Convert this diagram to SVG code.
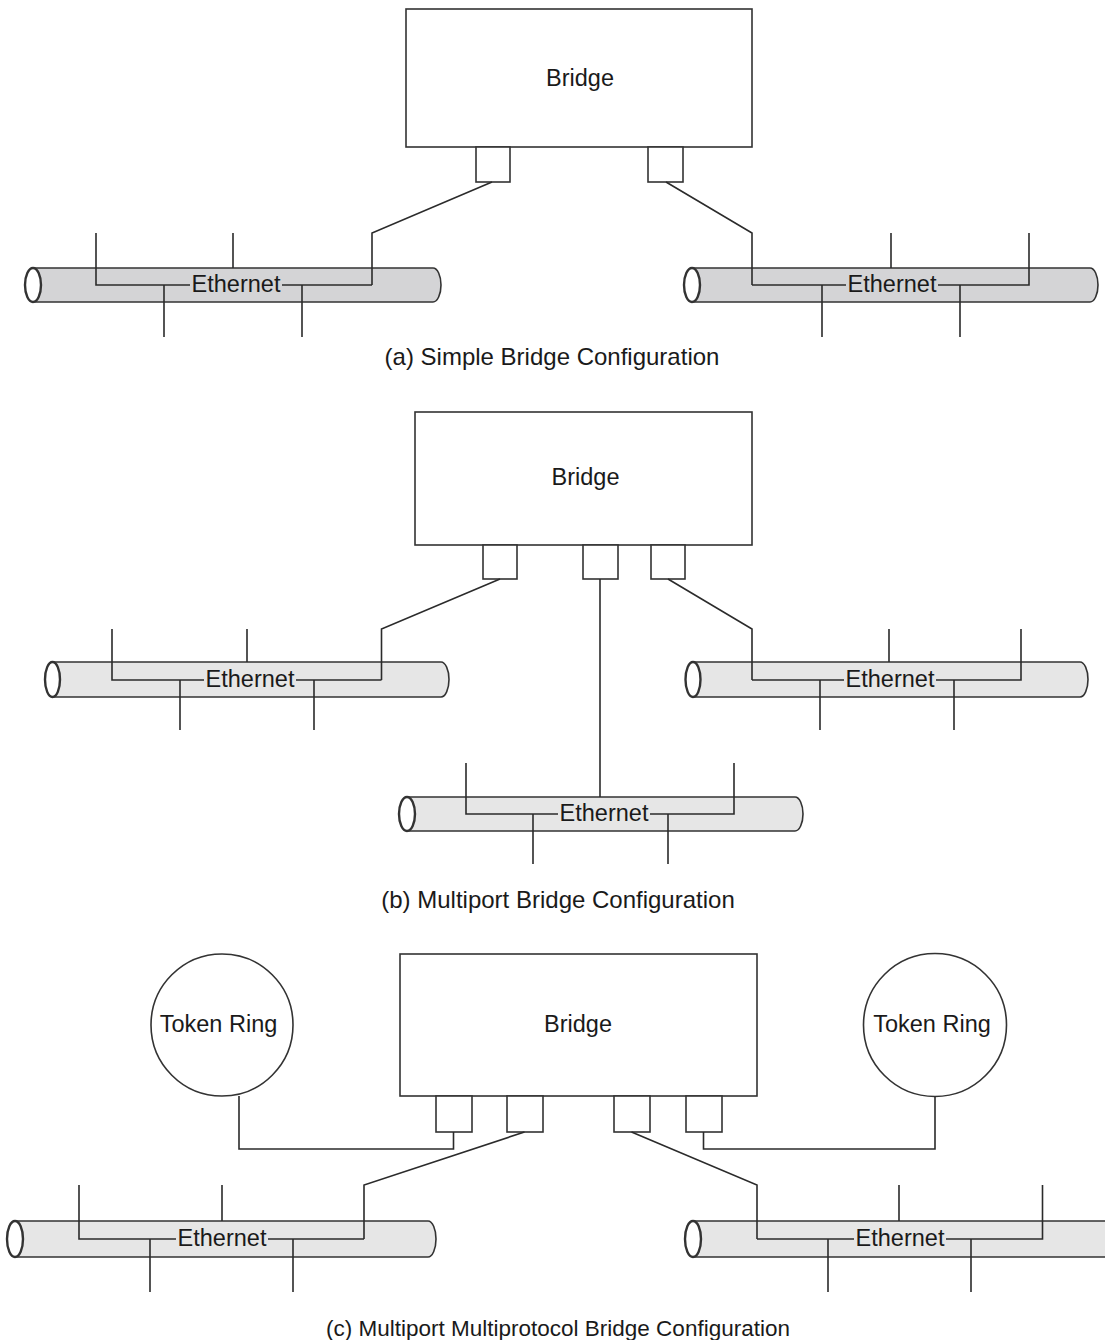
<svg xmlns="http://www.w3.org/2000/svg" width="1105" height="1340" viewBox="0 0 1105 1340">
  <defs>
    <style>
      .box { fill: #ffffff; stroke: #333333; stroke-width: 1.6; }
      .port { fill: #ffffff; stroke: #333333; stroke-width: 1.6; }
      .ring { fill: #ffffff; stroke: #333333; stroke-width: 1.6; }
      .pipe-a { fill: #d4d4d6; stroke: #333333; stroke-width: 1.6; }
      .pipe { fill: #e6e6e6; stroke: #333333; stroke-width: 1.6; }
      .pipe-end { fill: #ffffff; stroke: #333333; stroke-width: 2.4; }
      .wire { fill: none; stroke: #2b2b2b; stroke-width: 1.6; }
      .label { font-family: "Liberation Sans", Arial, sans-serif; font-size: 23.5px; fill: #1a1a1a; text-anchor: middle; }
      .caption { font-family: "Liberation Sans", Arial, sans-serif; font-size: 24px; fill: #1a1a1a; text-anchor: middle; }
    </style>
  </defs>
  <rect width="1105" height="1340" fill="#ffffff"/>

  <!-- ===== (a) Simple bridge ===== -->
  <g id="bridge-a">
    <rect class="box" x="406" y="9" width="346" height="138"/>
    <rect class="port" x="476" y="147" width="34" height="35"/>
    <rect class="port" x="648" y="147" width="35" height="35"/>
    <text class="label" x="580" y="86">Bridge</text>
  </g>

  <g id="ethernet-a1">
    <path class="pipe-a" d="M33,268 H433 A8,17 0 0 1 433,302 H33 Z"/>
    <ellipse class="pipe-end" cx="33" cy="285" rx="8" ry="17"/>
    <path class="wire" d="M96,233 V285 H190 M282,285 H372 M233,233 V268 M164,285 V337 M302,285 V337"/>
    <text class="label" x="236" y="292">Ethernet</text>
  </g>

  <g id="ethernet-a2">
    <path class="pipe-a" d="M692,268 H1090 A8,17 0 0 1 1090,302 H692 Z"/>
    <ellipse class="pipe-end" cx="692" cy="285" rx="8" ry="17"/>
    <path class="wire" d="M752,285 H846 M938,285 H1029 V233 M891,233 V268 M822,285 V337 M960,285 V337"/>
    <text class="label" x="892" y="292">Ethernet</text>
  </g>

  <text id="caption-a" class="caption" x="552" y="365">(a) Simple Bridge Configuration</text>

  <!-- ===== (b) Multiport bridge ===== -->
  <g id="bridge-b">
    <rect class="box" x="415" y="412" width="337" height="133"/>
    <rect class="port" x="483" y="545" width="34" height="34"/>
    <rect class="port" x="583" y="545" width="35" height="34"/>
    <rect class="port" x="651" y="545" width="34" height="34"/>
    <text class="label" x="585.5" y="485">Bridge</text>
  </g>

  <g id="ethernet-b1">
    <path class="pipe" d="M52.5,662 H441 A8,17.5 0 0 1 441,697 H52.5 Z"/>
    <ellipse class="pipe-end" cx="52.5" cy="679.5" rx="7.5" ry="17.5"/>
    <path class="wire" d="M112,629 V680 H204 M296,680 H381.5 M247,629 V662 M180,680 V730 M314,680 V730"/>
    <text class="label" x="250" y="687">Ethernet</text>
  </g>

  <g id="ethernet-b2">
    <path class="pipe" d="M693,662 H1080 A8,17.5 0 0 1 1080,697 H693 Z"/>
    <ellipse class="pipe-end" cx="693" cy="679.5" rx="7.5" ry="17.5"/>
    <path class="wire" d="M752,680 H844 M936,680 H1021 V629 M889,629 V662 M820,680 V730 M954,680 V730"/>
    <text class="label" x="890" y="687">Ethernet</text>
  </g>

  <g id="ethernet-b3">
    <path class="pipe" d="M407,797 H795 A8,17 0 0 1 795,831 H407 Z"/>
    <ellipse class="pipe-end" cx="407" cy="814" rx="8" ry="17"/>
    <path class="wire" d="M466,763 V814 H558 M650,814 H734 V763 M533,814 V864 M668,814 V864"/>
    <text class="label" x="604" y="821">Ethernet</text>
  </g>

  <text id="caption-b" class="caption" x="558" y="908">(b) Multiport Bridge Configuration</text>

  <!-- ===== (c) Multiport multiprotocol bridge ===== -->
  <g id="bridge-c">
    <rect class="box" x="400" y="954" width="357" height="142"/>
    <rect class="port" x="436" y="1096" width="36" height="36"/>
    <rect class="port" x="507" y="1096" width="36" height="36"/>
    <rect class="port" x="614" y="1096" width="36" height="36"/>
    <rect class="port" x="686" y="1096" width="36" height="36"/>
    <text class="label" x="578" y="1032">Bridge</text>
  </g>

  <g id="token-ring-left">
    <circle class="ring" cx="222" cy="1025" r="71"/>
    <text class="label" x="218.5" y="1032">Token Ring</text>
  </g>

  <g id="token-ring-right">
    <circle class="ring" cx="935" cy="1025" r="71.5"/>
    <text class="label" x="932" y="1032">Token Ring</text>
  </g>

  <g id="ethernet-c1">
    <path class="pipe" d="M15,1221 H428 A8,18 0 0 1 428,1257 H15 Z"/>
    <ellipse class="pipe-end" cx="15" cy="1239" rx="8" ry="18"/>
    <path class="wire" d="M79,1185 V1239 H176 M268,1239 H364 M222,1185 V1221 M150,1239 V1292 M293,1239 V1292"/>
    <text class="label" x="222" y="1246">Ethernet</text>
  </g>

  <g id="ethernet-c2">
    <path class="pipe" d="M693,1221 H1120 V1257 H693 Z"/>
    <ellipse class="pipe-end" cx="693" cy="1239" rx="8" ry="18"/>
    <path class="wire" d="M757,1239 H854 M946,1239 H1042.5 V1185 M899,1185 V1221 M828,1239 V1292 M971,1239 V1292"/>
    <text class="label" x="900" y="1246">Ethernet</text>
  </g>

  <text id="caption-c" class="caption" x="558" y="1336" style="font-size:22.5px">(c) Multiport Multiprotocol Bridge Configuration</text>

  <!-- ===== Links between bridge ports and networks ===== -->
  <g id="connectors" class="wire">
    <polyline points="492,182 372,233 372,285"/>
    <polyline points="666,182 752,233 752,285"/>

    <polyline points="500,579 381.5,629 381.5,680"/>
    <polyline points="600,579 600,797"/>
    <polyline points="668,579 752,629 752,680"/>

    <polyline points="239,1096 239,1149 453.5,1149 453.5,1132"/>
    <polyline points="935,1096.5 935,1149 703.5,1149 703.5,1132"/>
    <polyline points="524.5,1132 364,1185 364,1239"/>
    <polyline points="631.5,1132 757,1185 757,1239"/>
  </g>
</svg>
